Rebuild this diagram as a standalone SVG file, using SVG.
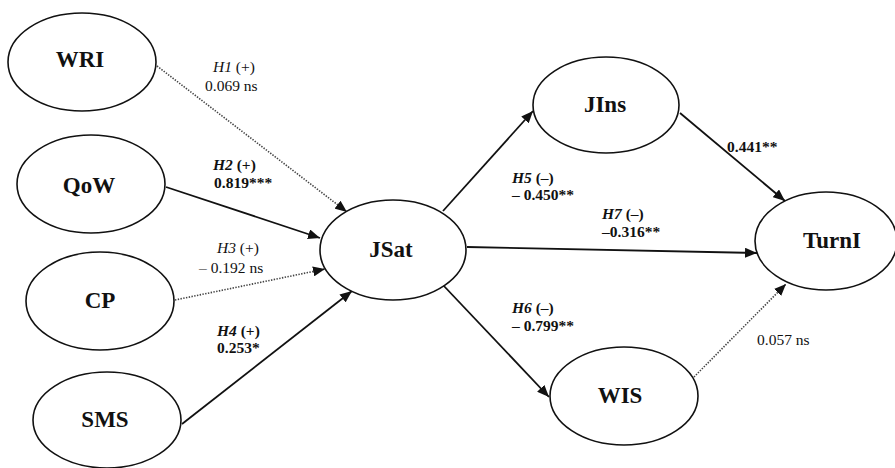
<svg xmlns="http://www.w3.org/2000/svg" width="895" height="468" viewBox="0 0 895 468">
  <style>
    .node ellipse { fill: #fff; stroke: #111; stroke-width: 1.6; }
    .node text { font-family: "Liberation Serif", "Times New Roman", serif; font-weight: bold; font-size: 23px; fill: #111; text-anchor: middle; }
    .solid { stroke: #111; stroke-width: 1.8; fill: none; }
    .dotted { stroke: #444; stroke-width: 1.6; stroke-dasharray: 1.4 1.4; fill: none; }
    .lbl { font-family: "Liberation Serif", "Times New Roman", serif; font-size: 15.5px; fill: #111; }
    .b { font-weight: bold; }
    .i { font-style: italic; }
  </style>
  <defs>
    <marker id="arrow" viewBox="0 0 12 10" refX="12" refY="5" markerWidth="12" markerHeight="10" markerUnits="userSpaceOnUse" orient="auto">
      <path d="M0,0 L12,5 L0,10 Z" fill="#111"/>
    </marker>
  </defs>

  <g id="connectors">
    <line class="dotted" x1="157" y1="66" x2="347" y2="212" marker-end="url(#arrow)"/>
    <line class="solid" x1="166" y1="187" x2="320" y2="238" marker-end="url(#arrow)"/>
    <line class="dotted" x1="175" y1="300" x2="325" y2="269" marker-end="url(#arrow)"/>
    <line class="solid" x1="182" y1="424" x2="352" y2="291" marker-end="url(#arrow)"/>
    <line class="solid" x1="443" y1="211" x2="533" y2="111" marker-end="url(#arrow)"/>
    <line class="solid" x1="680" y1="113" x2="785" y2="201" marker-end="url(#arrow)"/>
    <line class="solid" x1="467" y1="247" x2="757" y2="253" marker-end="url(#arrow)"/>
    <line class="solid" x1="443" y1="285" x2="549" y2="397" marker-end="url(#arrow)"/>
    <line class="dotted" x1="694" y1="377" x2="786" y2="284" marker-end="url(#arrow)"/>
  </g>

  <g id="WRI" class="node">
    <ellipse cx="82" cy="62" rx="74" ry="49"/>
    <text x="80" y="67">WRI</text>
  </g>
  <g id="QoW" class="node">
    <ellipse cx="91" cy="184" rx="74" ry="49"/>
    <text x="89" y="193">QoW</text>
  </g>
  <g id="CP" class="node">
    <ellipse cx="100" cy="301" rx="74" ry="49"/>
    <text x="100" y="308">CP</text>
  </g>
  <g id="SMS" class="node">
    <ellipse cx="107" cy="420" rx="74" ry="48"/>
    <text x="105" y="427">SMS</text>
  </g>
  <g id="JSat" class="node">
    <ellipse cx="393" cy="250" rx="73" ry="50"/>
    <text x="391" y="257">JSat</text>
  </g>
  <g id="JIns" class="node">
    <ellipse cx="606" cy="105" rx="73" ry="48"/>
    <text x="605" y="112">JIns</text>
  </g>
  <g id="TurnI" class="node">
    <ellipse cx="826" cy="241" rx="71" ry="49"/>
    <text x="832" y="248">TurnI</text>
  </g>
  <g id="WIS" class="node">
    <ellipse cx="624" cy="396" rx="74" ry="49"/>
    <text x="620" y="403">WIS</text>
  </g>

  <g id="labels">
    <text class="lbl" x="213" y="72"><tspan class="i">H1</tspan> (+)</text>
    <text class="lbl" x="205" y="91">0.069 ns</text>

    <text class="lbl b" x="213" y="170"><tspan class="i">H2</tspan> (+)</text>
    <text class="lbl b" x="214" y="188">0.819***</text>

    <text class="lbl" x="217" y="253"><tspan class="i">H3</tspan> (+)</text>
    <text class="lbl" x="199" y="273">– 0.192 ns</text>

    <text class="lbl b" x="217" y="336"><tspan class="i">H4</tspan> (+)</text>
    <text class="lbl b" x="217" y="353">0.253*</text>

    <text class="lbl b" x="512" y="183"><tspan class="i">H5</tspan> (–)</text>
    <text class="lbl b" x="512" y="200">– 0.450**</text>

    <text class="lbl b" x="602" y="219"><tspan class="i">H7</tspan> (–)</text>
    <text class="lbl b" x="602" y="237">–0.316**</text>

    <text class="lbl b" x="727" y="152">0.441**</text>

    <text class="lbl b" x="512" y="313"><tspan class="i">H6</tspan> (–)</text>
    <text class="lbl b" x="512" y="331">– 0.799**</text>

    <text class="lbl" x="757" y="345">0.057 ns</text>
  </g>
</svg>
